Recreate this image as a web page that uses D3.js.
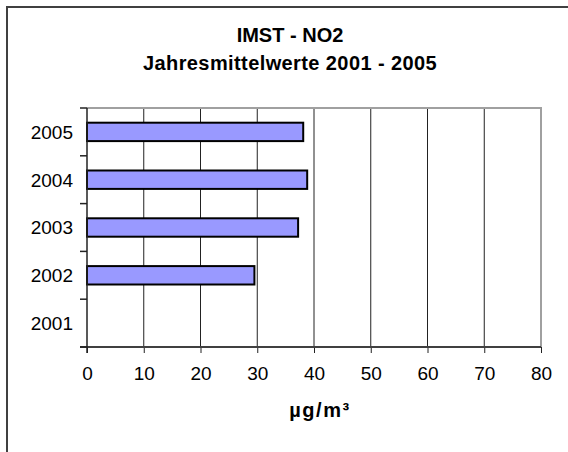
<!DOCTYPE html>
<html>
<head>
<meta charset="utf-8">
<script src="https://cdn.jsdelivr.net/npm/d3@7"></script>
<style>
  body { margin: 0; background: #fff; }
  text { font-family: "Liberation Sans", Arial, sans-serif; fill: #000; }
</style>
</head>
<body>
<svg width="568" height="452"></svg>
<script>
const years = ['2001', '2002', '2003', '2004', '2005'];
const no2 = [null, 29.5, 37.2, 38.8, 38.1];
const xTicks = [0, 10, 20, 30, 40, 50, 60, 70, 80];
const titleLines = ['IMST - NO2', 'Jahresmittelwerte 2001 - 2005'];
const xTitle = 'µg/m³';

const margin = { top: 108, right: 27, bottom: 105, left: 87 };
const width = 568, height = 452;

const svg = d3.select('svg');

// outer frame (runs off the right and bottom edge)
svg.append('rect')
  .attr('x', 7).attr('y', 7)
  .attr('width', 620).attr('height', 520)
  .attr('fill', 'none')
  .attr('stroke', '#404040')
  .attr('stroke-width', 2);

const x = d3.scaleLinear()
  .domain([0, 80])
  .range([margin.left, width - margin.right]);

const y = d3.scaleBand()
  .domain(years.slice().reverse())
  .range([margin.top, height - margin.bottom]);

const barH = y.bandwidth() * 0.385;
const x0 = x(0), x1 = x(80), y0 = y.range()[0], y1 = y.range()[1];

// gridlines
svg.append('g')
  .selectAll('line')
  .data(xTicks.filter(d => d > 0 && d < 80))
  .join('line')
  .attr('x1', d => x(d)).attr('x2', d => x(d))
  .attr('y1', y0).attr('y2', y1)
  .attr('stroke', '#222')
  .attr('stroke-width', 1);

// plot area border top / right
svg.append('path')
  .attr('d', `M${x0},${y0}H${x1}V${y1}`)
  .attr('fill', 'none')
  .attr('stroke', '#a0a0a0')
  .attr('stroke-width', 2);

// bars
svg.append('g')
  .selectAll('rect')
  .data(years.map((d, i) => ({ year: d, v: no2[i] })).filter(d => d.v != null))
  .join('rect')
  .attr('x', x0)
  .attr('y', d => y(d.year) + (y.bandwidth() - barH) / 2)
  .attr('width', d => x(d.v) - x0)
  .attr('height', barH)
  .attr('fill', '#9999ff')
  .attr('stroke', '#000')
  .attr('stroke-width', 2);

// x axis
const xAxis = svg.append('g')
  .attr('transform', `translate(0,${y1})`)
  .call(d3.axisBottom(x).tickValues(xTicks).tickSize(6).tickPadding(14).tickSizeOuter(0));
xAxis.select('.domain').remove();
xAxis.append('line')
  .attr('x1', x0 - 7).attr('x2', x1)
  .attr('stroke', '#404040').attr('stroke-width', 2);
xAxis.selectAll('.tick line').attr('stroke', '#222');
xAxis.selectAll('.tick text')
  .attr('font-size', 19)
  .style('font-family', '"Liberation Sans", Arial, sans-serif');

// y axis: ticks between categories
const yEdges = years.slice().reverse().map(d => y(d)).concat([y1]);
svg.append('g')
  .selectAll('line')
  .data(yEdges)
  .join('line')
  .attr('x1', x0 - 7).attr('x2', x0)
  .attr('y1', d => d).attr('y2', d => d)
  .attr('stroke', '#222')
  .attr('stroke-width', 1.5);
svg.append('line')
  .attr('x1', x0).attr('x2', x0)
  .attr('y1', y0).attr('y2', y1 + 6)
  .attr('stroke', '#222')
  .attr('stroke-width', 1.5);
svg.append('g')
  .selectAll('text')
  .data(years)
  .join('text')
  .attr('x', x0 - 14)
  .attr('y', d => y(d) + y.bandwidth() / 2)
  .attr('dy', '0.36em')
  .attr('text-anchor', 'end')
  .attr('font-size', 19)
  .text(d => d);

// titles
svg.append('g')
  .selectAll('text')
  .data(titleLines)
  .join('text')
  .attr('x', 290)
  .attr('y', (d, i) => 42 + i * 27.5)
  .attr('text-anchor', 'middle')
  .attr('font-size', 20)
  .attr('font-weight', 'bold')
  .attr('letter-spacing', (d, i) => i ? 0.4 : 0)
  .text(d => d);

svg.append('text')
  .attr('x', (x0 + x1) / 2 + 6)
  .attr('y', 417)
  .attr('text-anchor', 'middle')
  .attr('font-size', 20)
  .attr('font-weight', 'bold')
  .attr('letter-spacing', 1.6)
  .text(xTitle);
</script>
</body>
</html>
